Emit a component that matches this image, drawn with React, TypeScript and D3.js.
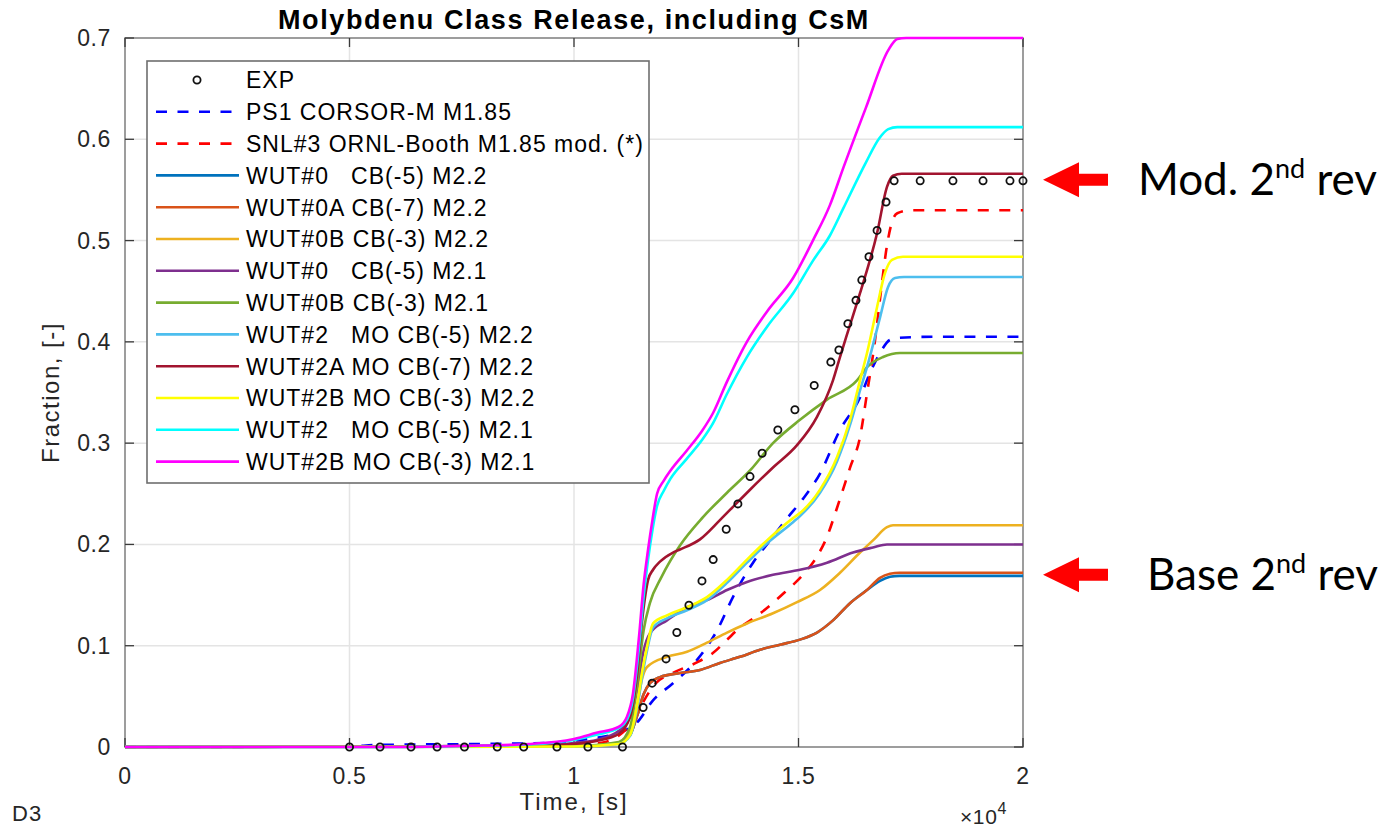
import React from 'react';
import * as d3 from 'd3';

type Pt = [number, number];

// Axis ticks (time in seconds, shown in units of 10^4)
const timeTicks = [0, 5000, 10000, 15000, 20000];
const timeTickLabels = ['0', '0.5', '1', '1.5', '2'];
const fractionTicks = [0, 0.1, 0.2, 0.3, 0.4, 0.5, 0.6, 0.7];
const fractionTickLabels = ['0', '0.1', '0.2', '0.3', '0.4', '0.5', '0.6', '0.7'];

// Measured release fraction
const expData: Pt[] = [
  [5000, 0], [5680, 0], [6370, 0], [6950, 0], [7560, 0], [8290, 0], [8880, 0], [9620, 0],
  [10310, 0], [11080, 0], [11540, 0.039], [11740, 0.063], [12050, 0.087], [12290, 0.113],
  [12560, 0.14], [12850, 0.164], [13100, 0.185], [13390, 0.215], [13650, 0.24], [13920, 0.267],
  [14190, 0.29], [14540, 0.313], [14920, 0.333], [15350, 0.357], [15720, 0.38], [15900, 0.392],
  [16100, 0.418], [16280, 0.441], [16410, 0.461], [16570, 0.484], [16750, 0.51], [16950, 0.538],
  [17130, 0.559], [17710, 0.559], [18440, 0.559], [19110, 0.559], [19710, 0.559], [20000, 0.559],
];

const ps1Corsor: Pt[] = [
  [0, 0], [5000, 0.0005], [5600, 0.002], [8000, 0.003], [9500, 0.004], [10000, 0.006],
  [10500, 0.009], [11000, 0.014], [11400, 0.024], [11760, 0.046], [12205, 0.063], [12740, 0.086],
  [13185, 0.115], [13540, 0.148], [13987, 0.182], [14350, 0.203], [14750, 0.226], [15100, 0.245],
  [15480, 0.27], [15924, 0.313], [16370, 0.345], [16590, 0.369], [16815, 0.389], [17040, 0.402],
  [17260, 0.404], [18000, 0.405], [20000, 0.405],
];

const snl3Booth: Pt[] = [
  [0, 0], [8000, 0.001], [10000, 0.002], [10700, 0.005], [11150, 0.017], [11350, 0.027],
  [11550, 0.045], [11800, 0.062], [12200, 0.073], [12760, 0.084], [13100, 0.093], [13410, 0.106],
  [13700, 0.118], [14030, 0.128], [14370, 0.14], [14700, 0.153], [15100, 0.17], [15410, 0.188],
  [15630, 0.207], [15850, 0.235], [16150, 0.276], [16370, 0.306], [16525, 0.349], [16700, 0.4],
  [16850, 0.455], [16970, 0.495], [17080, 0.518], [17200, 0.527], [17500, 0.53], [20000, 0.53],
];

const wut0M22: Pt[] = [
  [0, 0], [10000, 0.001], [11000, 0.004], [11250, 0.012], [11400, 0.03], [11550, 0.052],
  [11690, 0.063], [11915, 0.069], [12360, 0.073], [12806, 0.076], [13250, 0.083], [13697, 0.089],
  [14143, 0.096], [14588, 0.101], [15033, 0.106], [15412, 0.113], [15768, 0.125], [16147, 0.142],
  [16526, 0.155], [16815, 0.164], [17038, 0.168], [17250, 0.169], [20000, 0.169],
];

const wut0AM22: Pt[] = [
  [0, 0], [10000, 0.001], [11000, 0.004], [11250, 0.012], [11400, 0.03], [11550, 0.052],
  [11690, 0.063], [11915, 0.069], [12360, 0.073], [12806, 0.076], [13250, 0.083], [13697, 0.089],
  [14143, 0.096], [14588, 0.101], [15033, 0.106], [15412, 0.113], [15768, 0.125], [16147, 0.142],
  [16526, 0.155], [16815, 0.167], [17038, 0.171], [17250, 0.172], [20000, 0.172],
];

const wut0BM22: Pt[] = [
  [0, 0], [10000, 0.001], [11000, 0.004], [11250, 0.015], [11400, 0.04], [11520, 0.068],
  [11626, 0.079], [12071, 0.089], [12517, 0.094], [12962, 0.103], [13408, 0.113], [13853, 0.122],
  [14432, 0.132], [14967, 0.143], [15479, 0.155], [15924, 0.172], [16370, 0.192], [16659, 0.204],
  [16971, 0.217], [17105, 0.219], [20000, 0.219],
];

const wut0M21: Pt[] = [
  [0, 0], [9000, 0.001], [10000, 0.004], [10500, 0.007], [11000, 0.016], [11250, 0.03],
  [11400, 0.055], [11550, 0.095], [11690, 0.112], [12071, 0.125], [12517, 0.138], [12962, 0.145],
  [13408, 0.155], [13853, 0.163], [14432, 0.17], [15033, 0.175], [15635, 0.182], [16214, 0.192],
  [16659, 0.197], [16971, 0.2], [17200, 0.2], [20000, 0.2],
];

const wut0BM21: Pt[] = [
  [0, 0], [10000, 0.001], [11000, 0.005], [11250, 0.02], [11400, 0.06], [11550, 0.115],
  [11690, 0.142], [11950, 0.168], [12360, 0.199], [12873, 0.227], [13408, 0.251], [13920, 0.273],
  [14432, 0.3], [15033, 0.323], [15635, 0.343], [16303, 0.362], [16526, 0.375], [16882, 0.385],
  [17260, 0.389], [20000, 0.389],
];

const wut2MoM22: Pt[] = [
  [0, 0], [10000, 0.0005], [11000, 0.003], [11250, 0.011], [11400, 0.037], [11520, 0.07],
  [11626, 0.095], [11760, 0.118], [12071, 0.127], [12517, 0.135], [12962, 0.145], [13408, 0.162],
  [13853, 0.182], [14298, 0.201], [14878, 0.222], [15033, 0.228], [15479, 0.251], [15857, 0.282],
  [16147, 0.318], [16370, 0.352], [16526, 0.375], [16815, 0.424], [16993, 0.454], [17150, 0.463],
  [17350, 0.464], [20000, 0.464],
];

const wut2AMoM22: Pt[] = [
  [0, 0], [9000, 0.001], [10000, 0.003], [10500, 0.006], [11000, 0.013], [11250, 0.03],
  [11400, 0.07], [11530, 0.13], [11650, 0.165], [11760, 0.175], [11915, 0.183], [12205, 0.192],
  [12360, 0.195], [12806, 0.205], [13250, 0.224], [13650, 0.242], [13920, 0.254], [14432, 0.276],
  [14967, 0.298], [15412, 0.326], [15768, 0.362], [15924, 0.385], [16100, 0.41], [16370, 0.448],
  [16748, 0.507], [16971, 0.553], [17105, 0.564], [17300, 0.566], [20000, 0.566],
];

const wut2BMoM22: Pt[] = [
  [0, 0], [10000, 0.0005], [11000, 0.003], [11250, 0.012], [11400, 0.04], [11520, 0.075],
  [11626, 0.099], [11760, 0.122], [12071, 0.13], [12517, 0.138], [12962, 0.148], [13408, 0.165],
  [13853, 0.185], [14298, 0.204], [14878, 0.226], [15033, 0.231], [15479, 0.254], [15857, 0.286],
  [16147, 0.323], [16370, 0.362], [16526, 0.389], [16748, 0.434], [16926, 0.468], [17082, 0.481],
  [17327, 0.484], [20000, 0.484],
];

const wut2MoM21: Pt[] = [
  [0, 0], [6000, 0], [7000, 0.0004], [8000, 0.0012], [9000, 0.0025], [10000, 0.007],
  [10500, 0.012], [11000, 0.019], [11180, 0.027], [11314, 0.048], [11450, 0.1], [11550, 0.148],
  [11650, 0.185], [11750, 0.215], [11850, 0.238], [12000, 0.253], [12150, 0.265], [12500, 0.284],
  [12850, 0.303], [13100, 0.32], [13400, 0.348], [13850, 0.385], [14300, 0.415], [14880, 0.448],
  [15320, 0.48], [15700, 0.505], [16000, 0.532], [16500, 0.577], [16800, 0.601], [17000, 0.61],
  [17200, 0.612], [20000, 0.612],
];

const wut2BMoM21: Pt[] = [
  [0, 0], [6000, 0], [7000, 0.0005], [8000, 0.0015], [9000, 0.003], [10000, 0.008],
  [10500, 0.014], [11000, 0.02], [11180, 0.03], [11314, 0.053], [11450, 0.11], [11550, 0.16],
  [11650, 0.195], [11750, 0.225], [11850, 0.25], [12000, 0.263], [12150, 0.273], [12500, 0.292],
  [12850, 0.312], [13100, 0.33], [13400, 0.36], [13850, 0.4], [14300, 0.43], [14880, 0.463],
  [15320, 0.5], [15700, 0.535], [16000, 0.572], [16500, 0.631], [17000, 0.688], [17200, 0.699],
  [17400, 0.7], [20000, 0.7],
];

interface Series {
  name: string;
  color: string;
  dashed: boolean;
  data: Pt[];
}

const seriesList: Series[] = [
  { name: 'PS1 CORSOR-M M1.85', color: '#0000ff', dashed: true, data: ps1Corsor },
  { name: 'SNL#3 ORNL-Booth M1.85 mod. (*)', color: '#ff0000', dashed: true, data: snl3Booth },
  { name: 'WUT#0   CB(-5) M2.2', color: '#0072bd', dashed: false, data: wut0M22 },
  { name: 'WUT#0A CB(-7) M2.2', color: '#d95319', dashed: false, data: wut0AM22 },
  { name: 'WUT#0B CB(-3) M2.2', color: '#edb120', dashed: false, data: wut0BM22 },
  { name: 'WUT#0   CB(-5) M2.1', color: '#7e2f8e', dashed: false, data: wut0M21 },
  { name: 'WUT#0B CB(-3) M2.1', color: '#77ac30', dashed: false, data: wut0BM21 },
  { name: 'WUT#2   MO CB(-5) M2.2', color: '#4dbeee', dashed: false, data: wut2MoM22 },
  { name: 'WUT#2A MO CB(-7) M2.2', color: '#a2142f', dashed: false, data: wut2AMoM22 },
  { name: 'WUT#2B MO CB(-3) M2.2', color: '#ffff00', dashed: false, data: wut2BMoM22 },
  { name: 'WUT#2   MO CB(-5) M2.1', color: '#00ffff', dashed: false, data: wut2MoM21 },
  { name: 'WUT#2B MO CB(-3) M2.1', color: '#ff00ff', dashed: false, data: wut2BMoM21 },
];

const expLabel = 'EXP';
const markedLevels = [
  { value: 0.56, lead: 'Mod. 2', sup: 'nd', tail: ' rev', textX: 1138 },
  { value: 0.17, lead: 'Base 2', sup: 'nd', tail: ' rev', textX: 1147 },
];

const W = 1382;
const H = 830;
const PLOT = { left: 125, right: 1023, top: 38, bottom: 747 };
const SANS = '"Liberation Sans", Arial, Helvetica, sans-serif';
const DASH = '11 10.5';
const LINE_W = 2.6;

export default function App() {
  const x = d3.scaleLinear().domain([0, 20000]).range([PLOT.left, PLOT.right]);
  const y = d3.scaleLinear().domain([0, 0.7]).range([PLOT.bottom, PLOT.top]);
  const line = d3
    .line<Pt>()
    .x((d) => x(d[0]))
    .y((d) => y(d[1]))
    .curve(d3.curveMonotoneX);

  const tickLen = 9;
  const legend = { x: 147, y: 61, w: 502, h: 422, row0: 80, rowStep: 31.8 };
  const legendRows = [expLabel, ...seriesList.map((s) => s.name)];

  return (
    <svg
      width={W}
      height={H}
      viewBox={`0 0 ${W} ${H}`}
      style={{ position: 'absolute', left: 0, top: 0, background: '#fff' }}
    >
      <rect x={0} y={0} width={W} height={H} fill="#fff" />

      {/* grid */}
      <g stroke="#e4e4e4" strokeWidth={1.5}>
        {timeTicks.map((t) => (
          <line key={'gx' + t} x1={x(t)} x2={x(t)} y1={PLOT.top} y2={PLOT.bottom} />
        ))}
        {fractionTicks.map((v) => (
          <line key={'gy' + v} x1={PLOT.left} x2={PLOT.right} y1={y(v)} y2={y(v)} />
        ))}
      </g>

      {/* axes box and inward ticks */}
      <rect
        x={PLOT.left}
        y={PLOT.top}
        width={PLOT.right - PLOT.left}
        height={PLOT.bottom - PLOT.top}
        fill="none"
        stroke="#8a8a8a"
        strokeWidth={1.6}
      />
      <g stroke="#3a3a3a" strokeWidth={1.3}>
        {timeTicks.map((t) => (
          <g key={'tx' + t}>
            <line x1={x(t)} x2={x(t)} y1={PLOT.bottom} y2={PLOT.bottom - tickLen} />
            <line x1={x(t)} x2={x(t)} y1={PLOT.top} y2={PLOT.top + tickLen} />
          </g>
        ))}
        {fractionTicks.map((v) => (
          <g key={'ty' + v}>
            <line x1={PLOT.left} x2={PLOT.left + tickLen} y1={y(v)} y2={y(v)} />
            <line x1={PLOT.right} x2={PLOT.right - tickLen} y1={y(v)} y2={y(v)} />
          </g>
        ))}
      </g>

      {/* tick labels */}
      <g fontFamily={SANS} fontSize={23} fill="#262626" letterSpacing={0.6}>
        {timeTicks.map((t, i) => (
          <text key={'lx' + t} x={x(t)} y={784} textAnchor="middle">
            {timeTickLabels[i]}
          </text>
        ))}
        {fractionTicks.map((v, i) => (
          <text key={'ly' + v} x={111} y={y(v) + 8} textAnchor="end">
            {fractionTickLabels[i]}
          </text>
        ))}
      </g>
      <text x={960} y={824} fontFamily={SANS} fontSize={21} fill="#262626" letterSpacing={0.6}>
        ×10
        <tspan fontSize={16} dy={-10}>
          4
        </tspan>
      </text>

      {/* series */}
      <g fill="none" strokeLinejoin="round">
        {seriesList.map((s) => (
          <path
            key={s.name}
            d={line(s.data) || ''}
            stroke={s.color}
            strokeWidth={LINE_W}
            strokeDasharray={s.dashed ? DASH : undefined}
          />
        ))}
      </g>

      {/* measured points */}
      <g fill="none" stroke="#111" strokeWidth={1.8}>
        {expData.map((d, i) => (
          <circle key={'e' + i} cx={x(d[0])} cy={y(d[1])} r={3.6} />
        ))}
      </g>

      {/* title and axis labels */}
      <text
        x={(PLOT.left + PLOT.right) / 2}
        y={29}
        textAnchor="middle"
        fontFamily={SANS}
        fontWeight="bold"
        fontSize={27}
        letterSpacing={1.6}
        fill="#000"
      >
        Molybdenu Class Release, including CsM
      </text>
      <text
        x={(PLOT.left + PLOT.right) / 2}
        y={810}
        textAnchor="middle"
        fontFamily={SANS}
        fontSize={24}
        letterSpacing={2}
        fill="#262626"
      >
        Time, [s]
      </text>
      <text
        transform={`translate(59, ${(PLOT.top + PLOT.bottom) / 2}) rotate(-90)`}
        textAnchor="middle"
        fontFamily={SANS}
        fontSize={24}
        letterSpacing={1.5}
        fill="#262626"
      >
        Fraction, [-]
      </text>
      <text x={12} y={821} fontFamily={SANS} fontSize={22} letterSpacing={1} fill="#262626">
        D3
      </text>

      {/* legend */}
      <g>
        <rect
          x={legend.x}
          y={legend.y}
          width={legend.w}
          height={legend.h}
          fill="#fff"
          stroke="#6e6e6e"
          strokeWidth={1.6}
        />
        {legendRows.map((label, i) => {
          const ry = legend.row0 + i * legend.rowStep;
          const s = i > 0 ? seriesList[i - 1] : null;
          return (
            <g key={'lg' + i}>
              {s ? (
                <line
                  x1={156}
                  x2={239}
                  y1={ry}
                  y2={ry}
                  stroke={s.color}
                  strokeWidth={LINE_W}
                  strokeDasharray={s.dashed ? DASH : undefined}
                />
              ) : (
                <circle cx={197} cy={ry} r={3.6} fill="none" stroke="#111" strokeWidth={1.8} />
              )}
              <text
                x={246}
                y={ry + 8.3}
                fontFamily={SANS}
                fontSize={23}
                letterSpacing={1}
                fill="#000"
                style={{ whiteSpace: 'pre' }}
              >
                {label}
              </text>
            </g>
          );
        })}
      </g>

      {/* level markers */}
      {markedLevels.map((m) => {
        const cy = y(m.value);
        const tip = PLOT.right + 20;
        const headBack = tip + 36;
        const tailEnd = tip + 65;
        const pts = [
          [tip, cy],
          [headBack, cy - 17.5],
          [headBack, cy - 6],
          [tailEnd, cy - 6],
          [tailEnd, cy + 6],
          [headBack, cy + 6],
          [headBack, cy + 17.5],
        ]
          .map((p) => p.join(','))
          .join(' ');
        return (
          <g key={m.lead}>
            <polygon points={pts} fill="#ff0000" />
            <text x={m.textX} y={cy + 15} fontFamily="Lato, 'Open Sans', sans-serif" fontSize={44} fill="#000">
              {m.lead}
              <tspan fontSize={27} dy={-17}>
                {m.sup}
              </tspan>
              <tspan dy={17}>{m.tail}</tspan>
            </text>
          </g>
        );
      })}
    </svg>
  );
}
